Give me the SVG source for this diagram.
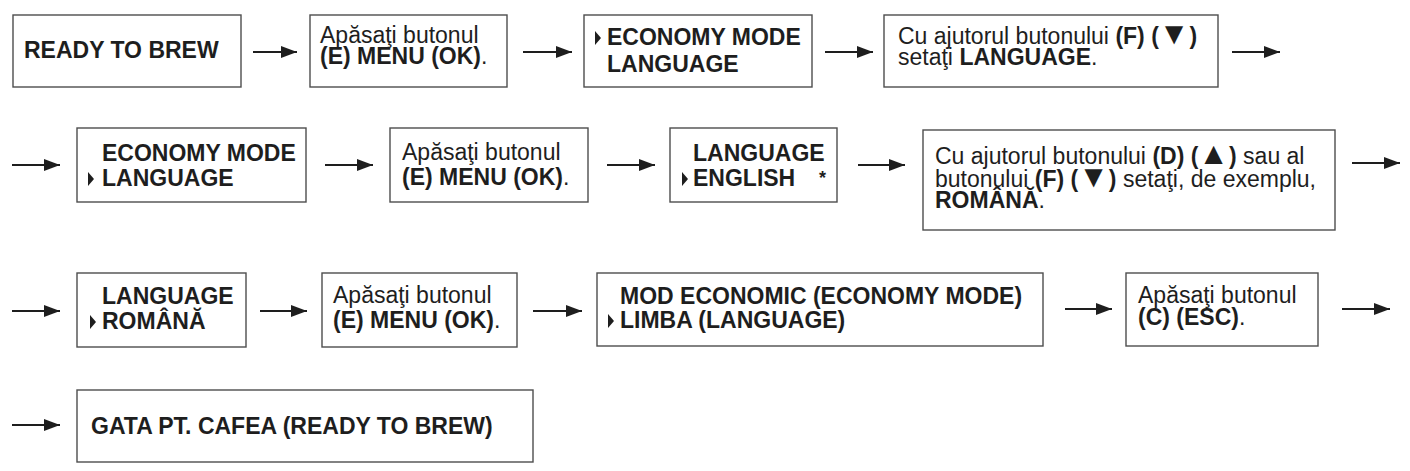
<svg xmlns="http://www.w3.org/2000/svg" width="1410" height="471" viewBox="0 0 1410 471">
<defs>
<style>
.box{fill:#fff;stroke:#4d4d4d;stroke-width:1.4}
text{font-family:"Liberation Sans",Arial,sans-serif;font-size:23px;fill:#1e1e1e}
.b{font-weight:bold}
.sym{font-size:31px;font-weight:bold}
.ptr{fill:#1e1e1e}
.arr{stroke:#1e1e1e;stroke-width:1.8;fill:none;marker-end:url(#ah)}
</style>
<marker id="ah" markerUnits="userSpaceOnUse" markerWidth="16" markerHeight="12" refX="16" refY="6" orient="auto">
<path d="M0,0 L16,6 L0,12 Z" fill="#1e1e1e"/>
</marker>
</defs>
<rect width="1410" height="471" fill="#fff"/>
<g id="connectors">
<line class="arr" x1="253" y1="52" x2="297" y2="52"/>
<line class="arr" x1="523" y1="52" x2="572" y2="52"/>
<line class="arr" x1="825" y1="52" x2="873" y2="52"/>
<line class="arr" x1="1232" y1="52" x2="1280" y2="52"/>
<line class="arr" x1="12" y1="165" x2="60" y2="165"/>
<line class="arr" x1="325" y1="165" x2="373" y2="165"/>
<line class="arr" x1="607" y1="165" x2="655" y2="165"/>
<line class="arr" x1="858" y1="165" x2="905" y2="165"/>
<line class="arr" x1="1352" y1="163" x2="1400" y2="163"/>
<line class="arr" x1="12" y1="311" x2="60" y2="311"/>
<line class="arr" x1="260" y1="311" x2="307" y2="311"/>
<line class="arr" x1="533" y1="311" x2="582" y2="311"/>
<line class="arr" x1="1065" y1="309" x2="1112" y2="309"/>
<line class="arr" x1="1342" y1="309" x2="1390" y2="309"/>
<line class="arr" x1="12" y1="425" x2="60" y2="425"/>
</g>
<g id="n1">
<rect class="box" x="13" y="15" width="228" height="72"/>
<text class="b" x="24" y="58">READY TO BREW</text>
</g>
<g id="n2">
<rect class="box" x="310" y="15" width="197" height="72"/>
<text x="320" y="43">Apăsaţi butonul<tspan x="320" y="64" class="b">(E) MENU (OK)</tspan>.</text>
</g>
<g id="n3">
<rect class="box" x="584" y="15" width="228" height="72"/>
<polygon class="ptr" points="595,31 601,38 595,45"/>
<text class="b" x="607" y="45">ECONOMY MODE<tspan x="607" y="72">LANGUAGE</tspan></text>
</g>
<g id="n4">
<rect class="box" x="884" y="15" width="334" height="72"/>
<text x="898" y="44">Cu ajutorul butonului <tspan class="b">(F) (</tspan><tspan class="sym">▼</tspan><tspan class="b">)</tspan><tspan x="898" y="65">setaţi </tspan><tspan class="b">LANGUAGE</tspan>.</text>
</g>
<g id="n5">
<rect class="box" x="77" y="128" width="229" height="74"/>
<polygon class="ptr" points="88,172 94,179 88,186"/>
<text class="b" x="102" y="161">ECONOMY MODE<tspan x="102" y="186">LANGUAGE</tspan></text>
</g>
<g id="n6">
<rect class="box" x="390" y="128" width="198" height="74"/>
<text x="402" y="160">Apăsaţi butonul<tspan x="402" y="185" class="b">(E) MENU (OK)</tspan>.</text>
</g>
<g id="n7">
<rect class="box" x="670" y="128" width="167" height="74"/>
<polygon class="ptr" points="682,172 688,179 682,186"/>
<text class="b" x="693" y="161">LANGUAGE<tspan x="693" y="186">ENGLISH</tspan><tspan x="819" y="184" style="font-size:18px">*</tspan></text>
</g>
<g id="n8">
<rect class="box" x="923" y="130" width="412" height="100"/>
<text x="935" y="164">Cu ajutorul butonului <tspan class="b">(D) (</tspan><tspan class="sym">▲</tspan><tspan class="b">)</tspan> sau al<tspan x="935" y="187">butonului </tspan><tspan class="b">(F) (</tspan><tspan class="sym">▼</tspan><tspan class="b">)</tspan> setaţi, de exemplu,<tspan x="935" y="208" class="b">ROMÂNĂ</tspan>.</text>
</g>
<g id="n9">
<rect class="box" x="77" y="273" width="169" height="74"/>
<polygon class="ptr" points="90,315 96,322 90,329"/>
<text class="b" x="102" y="304">LANGUAGE<tspan x="102" y="329">ROMÂNĂ</tspan></text>
</g>
<g id="n10">
<rect class="box" x="322" y="273" width="195" height="74"/>
<text x="333" y="303">Apăsaţi butonul<tspan x="333" y="328" class="b">(E) MENU (OK)</tspan>.</text>
</g>
<g id="n11">
<rect class="box" x="597" y="273" width="446" height="73"/>
<polygon class="ptr" points="608,314 614,321 608,328"/>
<text class="b" x="620" y="304">MOD ECONOMIC (ECONOMY MODE)<tspan x="620" y="328">LIMBA (LANGUAGE)</tspan></text>
</g>
<g id="n12">
<rect class="box" x="1126" y="273" width="192" height="73"/>
<text x="1138" y="303">Apăsaţi butonul<tspan x="1138" y="325" class="b">(C) (ESC)</tspan>.</text>
</g>
<g id="n13">
<rect class="box" x="77" y="390" width="456" height="72"/>
<text class="b" x="91" y="434">GATA PT. CAFEA (READY TO BREW)</text>
</g>
</svg>
